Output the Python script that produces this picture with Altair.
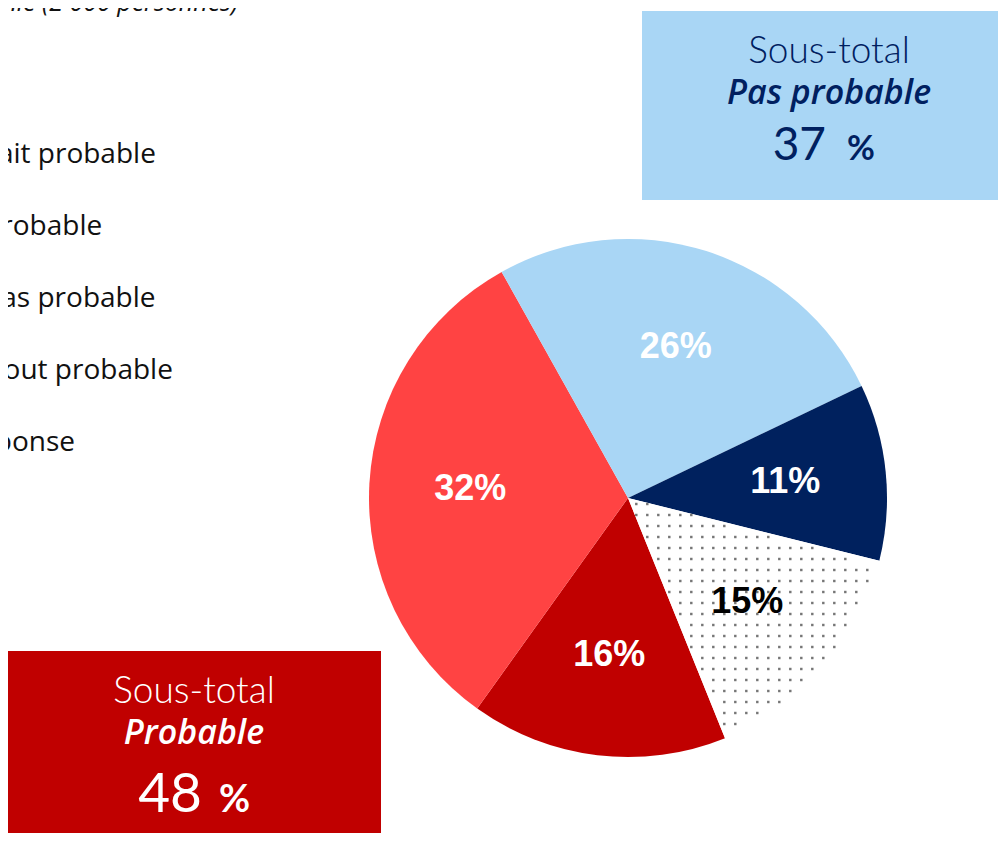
import math
import altair as alt
import pandas as pd

# ---------------- data ----------------
categories = ["Tout à fait probable", "Plutôt probable", "Plutôt pas probable",
              "Pas du tout probable", "Sans réponse"]
values = [16, 32, 26, 11, 15]
slice_colors = ["#C00000", "#FF4343", "#A9D6F5", "#00215E", "#FFFFFF"]
label_colors = ["#FFFFFF", "#FFFFFF", "#FFFFFF", "#FFFFFF", "#000000"]
labels_txt = [f"{v}%" for v in values]
title_text = "Base : échantillon représentatif de la population de Wallonie (2 000 personnes)"
sub_label = "Sous-total"
group_names = ["Probable", "Pas probable"]
subtotals = [values[0] + values[1], values[2] + values[3]]

# ---------------- layout ----------------
W, H = 990, 825
CX, CY, R = 620, 490, 259
START_DEG = 158
NAVY = "#002060"
BLUE_BOX = "#A9D6F5"
RED_BOX = "#C00000"

theta_range = [math.radians(START_DEG), math.radians(START_DEG) + 2 * math.pi]

df = pd.DataFrame({
    "cat": categories,
    "value": values,
    "idx": list(range(len(values))),
    "lab": labels_txt,
    "tcol": label_colors,
})

base = alt.Chart(df).encode(
    theta=alt.Theta("value:Q", stack=True, scale=alt.Scale(range=theta_range)),
    order=alt.Order("idx:Q"),
)

pie = base.mark_arc(radius=R).encode(
    x=alt.value(CX), y=alt.value(CY),
    color=alt.Color("cat:N", scale=alt.Scale(domain=categories, range=slice_colors), legend=None),
)

pie_labels = base.mark_text(radius=158, font="Liberation Sans", fontWeight="bold",
                            fontSize=36, baseline="middle", align="center").encode(
    x=alt.value(CX), y=alt.value(CY),
    text="lab:N",
    color=alt.Color("tcol:N", scale=None),
)

# dotted texture for the "Sans réponse" wedge
a0 = (START_DEG + sum(values[:4]) * 3.6) % 360
a1 = a0 + values[4] * 3.6
X0, Y0, STEP, N = 584.3, 463, 11, 50
dots = (
    alt.Chart(alt.sequence(0, N * N, as_="i"))
    .transform_calculate(gx=f"{X0} + (datum.i % {N}) * {STEP}")
    .transform_calculate(gy=f"{Y0} + floor(datum.i / {N}) * {STEP}")
    .transform_calculate(dx=f"datum.gx - {CX}")
    .transform_calculate(dy=f"datum.gy - {CY}")
    .transform_calculate(ang="(atan2(datum.dx, -datum.dy) * 180 / PI + 360) % 360")
    .transform_calculate(dist="sqrt(datum.dx * datum.dx + datum.dy * datum.dy)")
    .transform_filter(f"datum.ang > {a0 + 1} && datum.ang < {a1 - 1} && datum.dist < {R - 4}")
    .mark_square(size=6, color="#767676", opacity=1)
    .encode(x=alt.X("gx:Q", scale=None), y=alt.Y("gy:Q", scale=None))
)


def rect(x, x2, y, y2, color):
    return alt.Chart(pd.DataFrame({"k": [0]})).mark_rect(color=color).encode(
        x=alt.value(x), x2=alt.value(x2), y=alt.value(y), y2=alt.value(y2))


def txt(s, x, y, size, color, weight=400, style="normal", align="center", font="Lato"):
    return alt.Chart(pd.DataFrame({"t": [s]})).mark_text(
        align=align, baseline="alphabetic", font=font, fontSize=size,
        fontWeight=weight, fontStyle=style, color=color,
    ).encode(text="t:N", x=alt.value(x), y=alt.value(y))


legend = (
    alt.Chart(pd.DataFrame({"cat": categories, "idx": list(range(len(categories)))}))
    .transform_calculate(ly="155 + datum.idx * 72")
    .mark_text(align="left", baseline="alphabetic", font="Open Sans", fontWeight=400,
               fontSize=28, color="#111111")
    .encode(text="cat:N", x=alt.value(-109), y=alt.Y("ly:Q", scale=None))
)

title = txt(title_text, 230, 3, 25, "#111111", weight=400, style="italic",
            align="right", font="Open Sans")

blue_box = rect(634, W, 3, 192, BLUE_BOX)
red_box = rect(0, 373, 643, H, RED_BOX)

blue_texts = [
    txt(sub_label, 821, 55, 37, NAVY, weight=300),
    txt(group_names[1], 821, 96, 34, NAVY, weight=600, style="italic", font="Open Sans"),
    txt(str(subtotals[1]), 818, 152, 46, NAVY, weight=400, align="right"),
    txt("%", 839, 152, 34, NAVY, weight="bold", align="left"),
]
red_texts = [
    txt(sub_label, 186, 695, 37, "#FFFFFF", weight=300),
    txt(group_names[0], 186, 736, 34, "#FFFFFF", weight=600, style="italic", font="Open Sans"),
    txt(str(subtotals[0]), 194, 804, 55, "#FFFFFF", weight=400, align="right"),
    txt("%", 211, 804, 38, "#FFFFFF", weight="bold", align="left"),
]

chart = (
    alt.layer(blue_box, red_box, pie, dots, pie_labels, legend, title,
              *blue_texts, *red_texts)
    .resolve_scale(color="independent")
    .properties(width=W, height=H, autosize="none", padding=0)
    .configure_view(stroke=None)
)

chart.save("out.html", embed_options={"renderer": "svg", "actions": False})
